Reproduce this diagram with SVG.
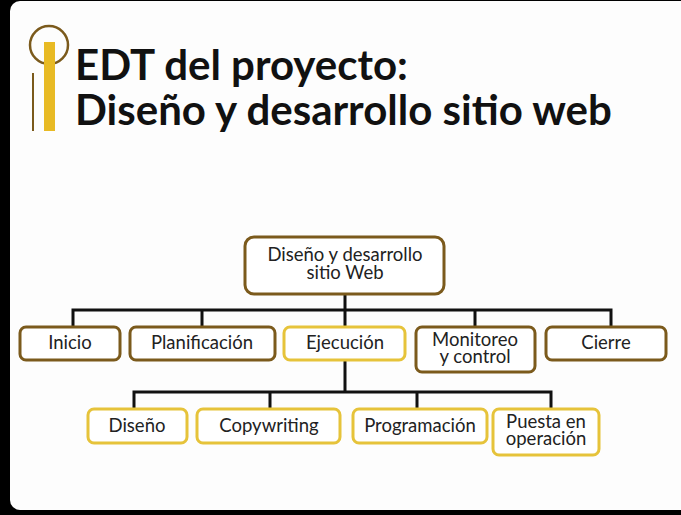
<svg xmlns="http://www.w3.org/2000/svg" width="681" height="515" viewBox="0 0 681 515">
<style>
.t{font-family:Lato,"Open Sans","Liberation Sans",sans-serif;font-size:18.5px;fill:#222;text-anchor:middle}
.h{font-family:Lato,"Open Sans","Liberation Sans",sans-serif;font-size:42px;font-weight:700;fill:#111}
.b{fill:#fff;stroke:#7b5a1c;stroke-width:3}
.y{fill:#fff;stroke:#e6c33a;stroke-width:3}
.c{fill:none;stroke:#111;stroke-width:3}
</style>
<rect x="0" y="0" width="681" height="515" fill="#000"/>
<rect x="10" y="1" width="690" height="509" rx="10" fill="#fdfdfd"/>
<g id="logo">
<circle cx="49" cy="45" r="19" fill="none" stroke="#7b5a1c" stroke-width="2.5"/>
<rect x="44" y="42" width="11" height="89" fill="#e8ba24"/>
<line x1="33" y1="73" x2="33" y2="131" stroke="#7b5a1c" stroke-width="2"/>
</g>
<g id="title">
<text class="h" x="75" y="80">EDT del proyecto:</text>
<text class="h" x="75" y="125">Diseño y desarrollo sitio web</text>
</g>
<g id="connectors">
<path class="c" d="M345 294V310M73 327V310H611V327M202 310V327M345 310V327M475 310V327"/>
<path class="c" d="M345 360V392M134 409V392H551V409M270 392V409M417 392V409"/>
</g>
<g id="root"><rect class="b" x="245" y="237" width="199" height="57" rx="9"/><text class="t" x="345" y="261">Diseño y desarrollo</text><text class="t" x="345" y="279">sitio Web</text></g>
<g id="inicio"><rect class="b" x="20" y="327" width="100" height="33" rx="6"/><text class="t" x="70" y="349">Inicio</text></g>
<g id="planificacion"><rect class="b" x="130" y="327" width="145" height="33" rx="6"/><text class="t" x="202" y="349">Planificación</text></g>
<g id="ejecucion"><rect class="y" x="284" y="327" width="121" height="33" rx="6"/><text class="t" x="345" y="349">Ejecución</text></g>
<g id="monitoreo"><rect class="b" x="416" y="327" width="119" height="45" rx="6"/><text class="t" x="475" y="346">Monitoreo</text><text class="t" x="475" y="363">y control</text></g>
<g id="cierre"><rect class="b" x="546" y="327" width="120" height="33" rx="6"/><text class="t" x="606" y="349">Cierre</text></g>
<g id="diseno"><rect class="y" x="88" y="409" width="99" height="34" rx="6"/><text class="t" x="137" y="432">Diseño</text></g>
<g id="copywriting"><rect class="y" x="197" y="409" width="143" height="34" rx="6"/><text class="t" x="269" y="432">Copywriting</text></g>
<g id="programacion"><rect class="y" x="353" y="409" width="134" height="34" rx="6"/><text class="t" x="420" y="432">Programación</text></g>
<g id="puesta"><rect class="y" x="493" y="409" width="106" height="46" rx="6"/><text class="t" x="546" y="428">Puesta en</text><text class="t" x="546" y="445">operación</text></g>
</svg>
